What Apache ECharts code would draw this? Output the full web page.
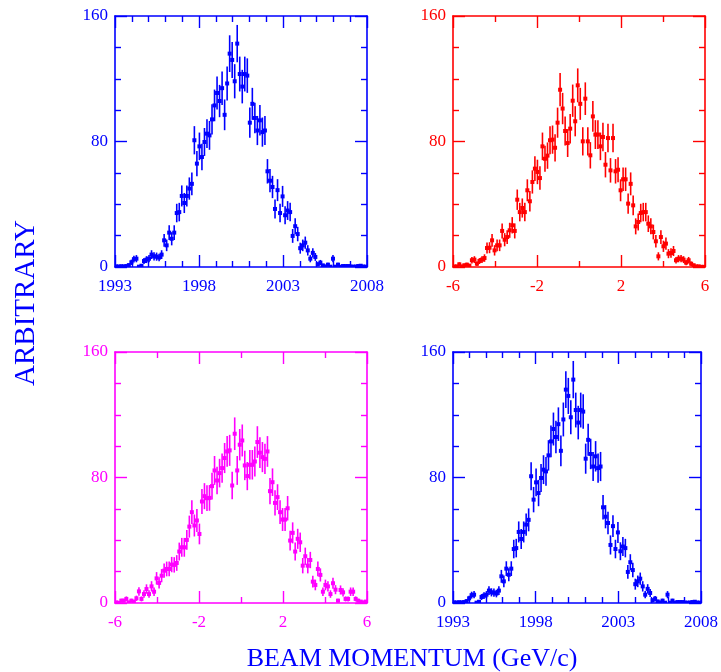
<!DOCTYPE html>
<html>
<head>
<meta charset="utf-8">
<script src="https://cdn.jsdelivr.net/npm/echarts@6/dist/echarts.min.js"></script>
<style>
  html, body { margin: 0; padding: 0; background: #ffffff; }
  #chart { width: 721px; height: 672px; }
</style>
</head>
<body>
<div id="chart"></div>
<script>
// Bin centres of the histograms
const yearBins = [
  1993.075, 1993.225, 1993.375, 1993.525, 1993.675, 1993.825, 1993.975, 1994.125, 1994.275, 1994.425,
  1994.575, 1994.725, 1994.875, 1995.025, 1995.175, 1995.325, 1995.475, 1995.625, 1995.775, 1995.925,
  1996.075, 1996.225, 1996.375, 1996.525, 1996.675, 1996.825, 1996.975, 1997.125, 1997.275, 1997.425,
  1997.575, 1997.725, 1997.875, 1998.025, 1998.175, 1998.325, 1998.475, 1998.625, 1998.775, 1998.925,
  1999.075, 1999.225, 1999.375, 1999.525, 1999.675, 1999.825, 1999.975, 2000.125, 2000.275, 2000.425,
  2000.575, 2000.725, 2000.875, 2001.025, 2001.175, 2001.325, 2001.475, 2001.625, 2001.775, 2001.925,
  2002.075, 2002.225, 2002.375, 2002.525, 2002.675, 2002.825, 2002.975, 2003.125, 2003.275, 2003.425,
  2003.575, 2003.725, 2003.875, 2004.025, 2004.175, 2004.325, 2004.475, 2004.625, 2004.775, 2004.925,
  2005.075, 2005.225, 2005.375, 2005.525, 2005.675, 2005.825, 2005.975, 2006.125, 2006.275, 2006.425,
  2006.575, 2006.725, 2006.875, 2007.025, 2007.175, 2007.325, 2007.475, 2007.625, 2007.775, 2007.925
];
const momentumBins = [
  -5.94, -5.82, -5.70, -5.58, -5.46, -5.34, -5.22, -5.10, -4.98, -4.86,
  -4.74, -4.62, -4.50, -4.38, -4.26, -4.14, -4.02, -3.90, -3.78, -3.66,
  -3.54, -3.42, -3.30, -3.18, -3.06, -2.94, -2.82, -2.70, -2.58, -2.46,
  -2.34, -2.22, -2.10, -1.98, -1.86, -1.74, -1.62, -1.50, -1.38, -1.26,
  -1.14, -1.02, -0.90, -0.78, -0.66, -0.54, -0.42, -0.30, -0.18, -0.06,
  0.06, 0.18, 0.30, 0.42, 0.54, 0.66, 0.78, 0.90, 1.02, 1.14,
  1.26, 1.38, 1.50, 1.62, 1.74, 1.86, 1.98, 2.10, 2.22, 2.34,
  2.46, 2.58, 2.70, 2.82, 2.94, 3.06, 3.18, 3.30, 3.42, 3.54,
  3.66, 3.78, 3.90, 4.02, 4.14, 4.26, 4.38, 4.50, 4.62, 4.74,
  4.86, 4.98, 5.10, 5.22, 5.34, 5.46, 5.58, 5.70, 5.82, 5.94
];

// Yearly distribution (blue panels)
const yearCounts = [
  0.4, 0.3, 0.5, 0.4, 0.6, 1.2, 3, 5, 5.3, 0.2,
  0.8, 3.8, 4.7, 5.3, 7.9, 6.8, 6.6, 6, 7.9, 17,
  13.8, 21.9, 18, 21.9, 34.4, 35, 45.3, 40.8, 45.3, 50,
  53, 80.8, 65.9, 76.9, 70.1, 79.7, 85, 83.9, 94.1, 103,
  110.9, 105.8, 114, 97, 117, 136, 132, 118.4, 142.4, 123,
  115, 123, 122, 92, 104, 95, 87, 93.5, 86, 87,
  61, 55, 51, 37, 49, 34.4, 45, 33, 36, 35,
  19.8, 26, 21, 12, 13.8, 15.5, 10.6, 5.3, 9, 6.4,
  1.7, 2.8, 1, 0.4, 1.5, 0.2, 5.3, 0.2, 1.5, 0.2,
  0.6, 0.6, 0.6, 0.3, 0.2, 0.3, 0.6, 0.8, 0.3, 0.2
];
const yearErrors = [
  0.6, 0.5, 0.7, 0.6, 0.8, 1.1, 1.7, 2.2, 2.3, 0.4,
  0.9, 1.9, 2.2, 2.3, 2.8, 2.6, 2.6, 2.4, 2.8, 4.1,
  3.7, 4.7, 4.2, 4.7, 5.9, 5.9, 6.7, 6.4, 6.7, 7.1,
  7.3, 9.0, 8.1, 8.8, 8.4, 8.9, 9.2, 9.2, 9.7, 10.1,
  10.5, 10.3, 10.7, 9.8, 10.8, 11.7, 11.5, 10.9, 11.9, 11.1,
  10.7, 11.1, 11.0, 9.6, 10.2, 9.7, 9.3, 9.7, 9.3, 9.3,
  7.8, 7.4, 7.1, 6.1, 7.0, 5.9, 6.7, 5.7, 6.0, 5.9,
  4.4, 5.1, 4.6, 3.5, 3.7, 3.9, 3.3, 2.3, 3.0, 2.5,
  1.3, 1.7, 1.0, 0.6, 1.2, 0.4, 2.3, 0.4, 1.2, 0.4,
  0.8, 0.8, 0.8, 0.5, 0.4, 0.5, 0.8, 0.9, 0.5, 0.4
];

// Momentum distribution (red panel)
const redCounts = [
  0.3, 0.4, 1.7, 0.4, 1.1, 1.5, 0.9, 4.3, 4.7, 2.1,
  3.8, 4.7, 5.7, 12.1, 12.3, 17, 10.6, 13.8, 13.8, 23,
  17.4, 19.1, 23.4, 26.6, 23, 42.9, 35, 37.6, 35, 48.9,
  41.9, 54.2, 62.7, 60.6, 56.7, 76.9, 69, 71, 80.8, 81.2,
  76, 92, 113, 101, 86.7, 79, 88.2, 106, 92.9, 115.8,
  104, 80.1, 107.3, 80.1, 71.2, 96, 84.4, 84.4, 76.9, 82.9,
  65.2, 82.2, 61.6, 82.2, 61, 62, 48.9, 55.9, 55.9, 40.4,
  53, 39.3, 25.9, 28.7, 34.4, 35, 35, 27.6, 25.9, 22.3,
  16.4, 6.8, 19.1, 13.2, 14.9, 8.5, 8.9, 10.2, 4.3, 5.3,
  5.3, 4.7, 2.8, 4.3, 2.1, 1.1, 0.4, 0.4, 0.1, 0.1
];
const redErrors = [
  0.5, 0.6, 1.3, 0.6, 1.0, 1.2, 0.9, 2.1, 2.2, 1.4,
  1.9, 2.2, 2.4, 3.5, 3.5, 4.1, 3.3, 3.7, 3.7, 4.8,
  4.2, 4.4, 4.8, 5.2, 4.8, 6.5, 5.9, 6.1, 5.9, 7.0,
  6.5, 7.4, 7.9, 7.8, 7.5, 8.8, 8.3, 8.4, 9.0, 9.0,
  8.7, 9.6, 10.6, 10.0, 9.3, 8.9, 9.4, 10.3, 9.6, 10.8,
  10.2, 9.0, 10.4, 9.0, 8.4, 9.8, 9.2, 9.2, 8.8, 9.1,
  8.1, 9.1, 7.8, 9.1, 7.8, 7.9, 7.0, 7.5, 7.5, 6.4,
  7.3, 6.3, 5.1, 5.4, 5.9, 5.9, 5.9, 5.3, 5.1, 4.7,
  4.0, 2.6, 4.4, 3.6, 3.9, 2.9, 3.0, 3.2, 2.1, 2.3,
  2.3, 2.2, 1.7, 2.1, 1.4, 1.0, 0.6, 0.6, 0.3, 0.3
];

// Momentum distribution (magenta panel)
const magentaCounts = [
  0.4, 0.1, 1.5, 1.5, 2.6, 0.4, 1.5, 0.9, 3, 7.4,
  2.6, 5.7, 8.9, 5.7, 10.6, 7.2, 15.7, 12.8, 17.4, 20.6,
  21.7, 21.7, 24.5, 24.3, 25.5, 32.8, 35.5, 35.5, 40.2, 48.7,
  57.9, 49.4, 52.6, 44, 64.7, 68.1, 66.8, 67, 74.5, 84.5,
  78.1, 82.8, 86, 92.4, 96.6, 97.3, 74.9, 107.9, 84.5, 100.9,
  103.6, 87.7, 80.9, 88.1, 88.1, 90.2, 102.6, 95.8, 93, 91.9,
  96.6, 71.3, 77, 63.8, 67.5, 57.9, 53.2, 53.2, 60.4, 39.8,
  44.7, 32.8, 40.9, 38.7, 23.8, 29.8, 23.8, 27.4, 13.6, 11.5,
  21.7, 17.9, 7.2, 11.5, 10.6, 5.7, 12.6, 8.5, 1.5, 8.3,
  6.8, 2.6, 2.6, 7.2, 7.2, 2.6, 1.5, 0.9, 0.4, 0.9
];
const magentaErrors = [
  0.6, 0.3, 1.2, 1.2, 1.6, 0.6, 1.2, 0.9, 1.7, 2.7,
  1.6, 2.4, 3.0, 2.4, 3.3, 2.7, 4.0, 3.6, 4.2, 4.5,
  4.7, 4.7, 4.9, 4.9, 5.0, 5.7, 6.0, 6.0, 6.3, 7.0,
  7.6, 7.0, 7.3, 6.6, 8.0, 8.3, 8.2, 8.2, 8.6, 9.2,
  8.8, 9.1, 9.3, 9.6, 9.8, 9.9, 8.7, 10.4, 9.2, 10.0,
  10.2, 9.4, 9.0, 9.4, 9.4, 9.5, 10.1, 9.8, 9.6, 9.6,
  9.8, 8.4, 8.8, 8.0, 8.2, 7.6, 7.3, 7.3, 7.8, 6.3,
  6.7, 5.7, 6.4, 6.2, 4.9, 5.5, 4.9, 5.2, 3.7, 3.4,
  4.7, 4.2, 2.7, 3.4, 3.3, 2.4, 3.5, 2.9, 1.2, 2.9,
  2.6, 1.6, 1.6, 2.7, 2.7, 1.6, 1.2, 0.9, 0.6, 0.9
];

// Axis ranges and tick labels
const yearTicks = [1993, 1998, 2003, 2008];
const momentumTicks = [-6, -2, 2, 6];
const countTicks = [0, 80, 160];

const BLUE = '#0000ff', RED = '#ff0000', MAGENTA = '#ff00ff';
const FONT = "'Liberation Serif', 'Times New Roman', serif";

const panels = [
  { left: 115, top: 16, color: BLUE, xs: yearBins, ys: yearCounts, es: yearErrors, ticks: yearTicks, minor: 5 },
  { left: 453, top: 16, color: RED, xs: momentumBins, ys: redCounts, es: redErrors, ticks: momentumTicks, minor: 2 },
  { left: 115, top: 352, color: MAGENTA, xs: momentumBins, ys: magentaCounts, es: magentaErrors, ticks: momentumTicks, minor: 2 },
  { left: 453, top: 352, color: BLUE, xs: yearBins, ys: yearCounts, es: yearErrors, ticks: yearTicks, minor: 5 }
];

const grids = [], xAxes = [], yAxes = [], series = [];

function axisStyle(color, showLabel, labelMargin, minorSplit) {
  return {
    axisLine: { show: true, onZero: false, lineStyle: { color: color, width: 1.6 } },
    axisTick: { show: true, inside: true, length: 12, lineStyle: { color: color, width: 1.4 } },
    minorTick: { show: true, splitNumber: minorSplit, length: 6, lineStyle: { color: color, width: 1.4 } },
    splitLine: { show: false },
    minorSplitLine: { show: false },
    axisLabel: {
      show: showLabel, color: color, fontFamily: FONT, fontSize: 17, margin: labelMargin,
      showMinLabel: true, showMaxLabel: true,
      formatter: function (v) { return String(v); }
    }
  };
}

panels.forEach(function (p, k) {
  grids.push({ left: p.left, top: p.top, width: 252, height: 251, containLabel: false });
  const xmin = p.ticks[0], xmax = p.ticks[p.ticks.length - 1];
  const xint = p.ticks[1] - p.ticks[0];
  ['bottom', 'top'].forEach(function (pos) {
    xAxes.push(Object.assign({
      type: 'value', gridIndex: k, position: pos, min: xmin, max: xmax, interval: xint
    }, axisStyle(p.color, pos === 'bottom', 11, p.minor)));
  });
  ['left', 'right'].forEach(function (pos) {
    yAxes.push(Object.assign({
      type: 'value', gridIndex: k, position: pos,
      min: countTicks[0], max: countTicks[countTicks.length - 1], interval: countTicks[1] - countTicks[0]
    }, axisStyle(p.color, pos === 'left', 7, 4)));
  });
  const data = p.xs.map(function (x, i) { return [x, p.ys[i], p.es[i]]; });
  const color = p.color;
  series.push({
    type: 'custom',
    xAxisIndex: 2 * k,
    yAxisIndex: 2 * k,
    clip: true,
    silent: true,
    data: data,
    renderItem: function (params, api) {
      const x = api.value(0), y = api.value(1), e = api.value(2);
      const c = api.coord([x, y]);
      const hi = api.coord([x, y + e]);
      const lo = api.coord([x, Math.max(0, y - e)]);
      return {
        type: 'group',
        children: [
          { type: 'line', shape: { x1: c[0], y1: hi[1], x2: c[0], y2: lo[1] },
            style: { stroke: color, lineWidth: 1.6 } },
          { type: 'rect', shape: { x: c[0] - 2, y: c[1] - 2, width: 4, height: 4 },
            style: { fill: color } }
        ]
      };
    }
  });
});

const chart = echarts.init(document.getElementById('chart'), null, { renderer: 'canvas' });
chart.setOption({
  animation: false,
  backgroundColor: '#ffffff',
  grid: grids,
  xAxis: xAxes,
  yAxis: yAxes,
  series: series,
  graphic: [
    {
      type: 'text', x: 26, y: 303, rotation: Math.PI / 2,
      style: { text: 'ARBITRARY', fill: BLUE, font: '29px ' + FONT, align: 'center', verticalAlign: 'middle' }
    },
    {
      type: 'text', x: 412, y: 659,
      style: { text: 'BEAM MOMENTUM (GeV/c)', fill: BLUE, font: '26px ' + FONT, align: 'center', verticalAlign: 'middle' }
    }
  ]
});
</script>
</body>
</html>
